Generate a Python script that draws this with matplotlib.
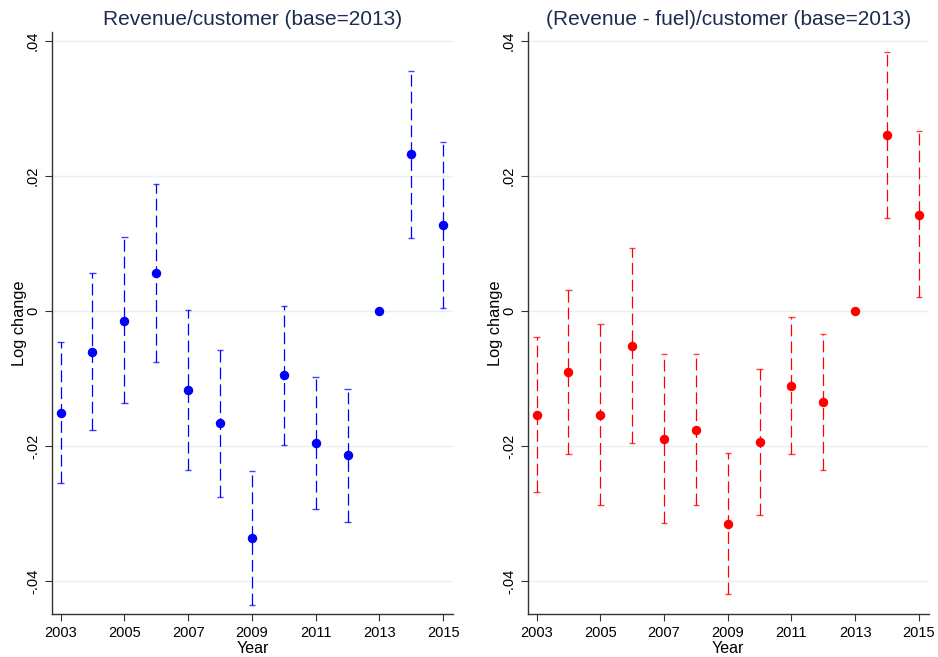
import matplotlib
matplotlib.use("Agg")
import matplotlib.pyplot as plt
import numpy as np

plt.rcParams['font.family'] = ['Liberation Sans', 'DejaVu Sans']

years = np.arange(2003, 2016)

# Revenue per customer, log change relative to 2013
rev_est = [-0.0151, -0.0060, -0.0015, 0.0057, -0.0117, -0.0166, -0.0336,
           -0.0095, -0.0196, -0.0214, 0.0, 0.0232, 0.0127]
rev_lo = [-0.0255, -0.0177, -0.0137, -0.0076, -0.0235, -0.0275, -0.0436,
          -0.0198, -0.0294, -0.0312, 0.0, 0.0108, 0.0004]
rev_hi = [-0.0046, 0.0057, 0.0110, 0.0189, 0.0001, -0.0058, -0.0237,
          0.0007, -0.0098, -0.0115, 0.0, 0.0356, 0.0251]

# Revenue net of fuel cost per customer
net_est = [-0.0154, -0.0090, -0.0154, -0.0052, -0.0189, -0.0176, -0.0315,
           -0.0194, -0.0111, -0.0135, 0.0, 0.0261, 0.0143]
net_lo = [-0.0268, -0.0212, -0.0288, -0.0196, -0.0314, -0.0287, -0.0419,
          -0.0302, -0.0212, -0.0236, 0.0, 0.0138, 0.0021]
net_hi = [-0.0039, 0.0031, -0.0019, 0.0093, -0.0063, -0.0064, -0.0211,
          -0.0086, -0.0009, -0.0034, 0.0, 0.0384, 0.0267]

yticks = [-0.04, -0.02, 0, 0.02, 0.04]
ytick_labels = ["-.04", "-.02", "0", ".02", ".04"]
xticks = [2003, 2005, 2007, 2009, 2011, 2013, 2015]

panels = [
    ("Revenue/customer (base=2013)", rev_est, rev_lo, rev_hi, "#0000ff"),
    ("(Revenue - fuel)/customer (base=2013)", net_est, net_lo, net_hi, "#ff0000"),
]

fig = plt.figure(figsize=(9.38, 6.57), dpi=100)
rects = [[0.0551, 0.0654, 0.4279, 0.8864], [0.5626, 0.0654, 0.4274, 0.8864]]

for rect, (title, est, lo, hi, col) in zip(rects, panels):
    ax = fig.add_axes(rect)
    est = np.array(est)
    lo = np.array(lo)
    hi = np.array(hi)
    has_ci = hi > lo
    for y in yticks:
        ax.axhline(y, color="#eaf0f1", lw=1.0, zorder=0)
    # dashed confidence intervals with small caps
    ax.vlines(years[has_ci], lo[has_ci], hi[has_ci], color=col, lw=0.9,
              linestyles=(0, (9.5, 4)), zorder=2)
    ax.hlines(np.r_[lo[has_ci], hi[has_ci]],
              np.r_[years[has_ci], years[has_ci]] - 0.1,
              np.r_[years[has_ci], years[has_ci]] + 0.1,
              color=col, lw=1.0, alpha=0.75, zorder=2)
    ax.plot(years, est, "o", color=col, ms=5.8, zorder=3)

    ax.set_xlim(2002.72, 2015.31)
    ax.set_ylim(-0.0449, 0.0414)
    ax.set_xticks(xticks)
    ax.set_yticks(yticks)
    ax.set_yticklabels(ytick_labels, rotation=90, va="center")
    ax.tick_params(labelsize=10.5, length=5, width=0.8, color="#333333")
    for s in ("top", "right"):
        ax.spines[s].set_visible(False)
    for s in ("left", "bottom"):
        ax.spines[s].set_color("#333333")
        ax.spines[s].set_linewidth(1.0)
    ax.set_xlabel("Year", fontsize=11.5, labelpad=1)
    ax.set_ylabel("Log change", fontsize=11.8, labelpad=-1)
    ax.set_title(title, fontsize=15, color="#1c2b4f", pad=5)

fig.savefig("out.png", dpi=100)
